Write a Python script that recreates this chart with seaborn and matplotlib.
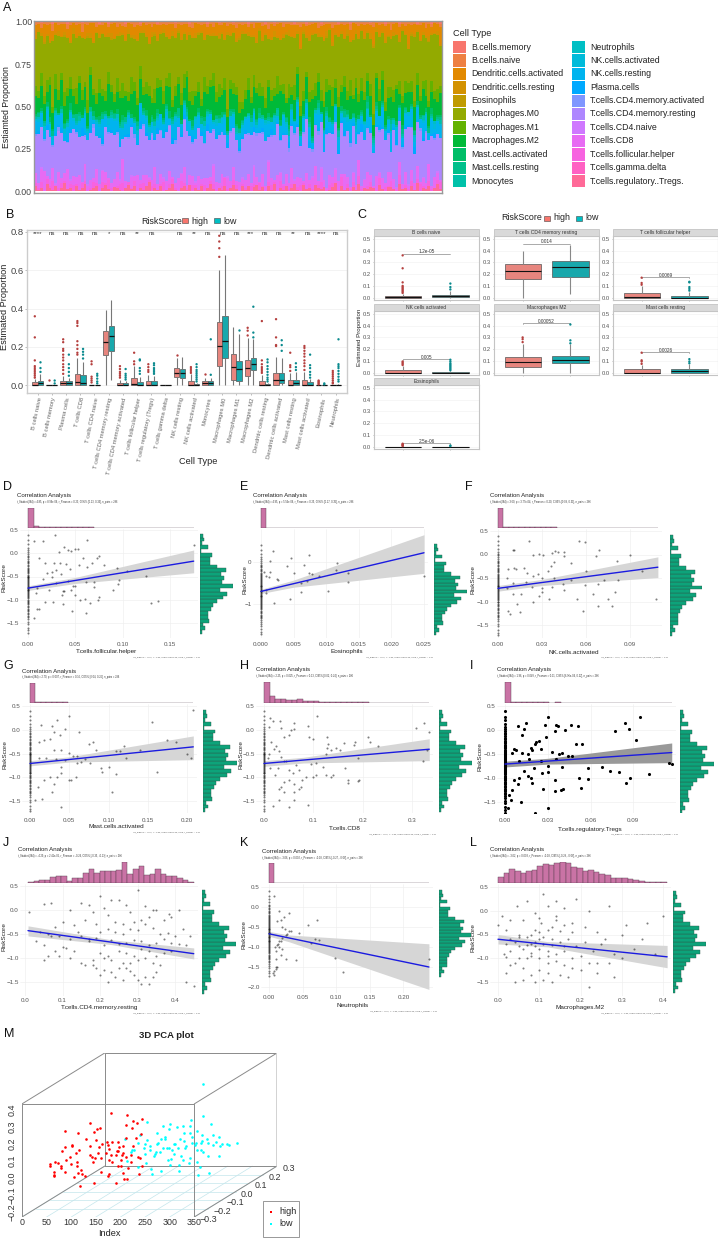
import numpy as np
import pandas as pd
import seaborn as sns
import matplotlib
matplotlib.use('Agg')
import matplotlib.pyplot as plt
from matplotlib.patches import Rectangle

sns.set_theme(style='white')
plt.rcParams['font.family'] = ['Liberation Sans', 'DejaVu Sans']

W, H = 718, 1240
HIGH, LOW = '#F8766D', '#00BFC4'
HIGH_DK, LOW_DK = '#B5403F', '#0A8A8E'

# ---- panel A: estimated proportion per sample (percent, 144 samples read across the plot)
cell_types = ['B.cells.memory', 'B.cells.naive', 'Dendritic.cells.activated', 'Dendritic.cells.resting',
              'Eosinophils', 'Macrophages.M0', 'Macrophages.M1', 'Macrophages.M2', 'Mast.cells.activated',
              'Mast.cells.resting', 'Monocytes', 'Neutrophils', 'NK.cells.activated', 'NK.cells.resting',
              'Plasma.cells', 'T.cells.CD4.memory.activated', 'T.cells.CD4.memory.resting', 'T.cells.CD4.naive',
              'T.cells.CD8', 'T.cells.follicular.helper', 'T.cells.gamma.delta', 'T.cells.regulatory..Tregs.']
cell_colors = ['#F8766D', '#EE8042', '#E28900', '#D39200', '#C09B00', '#93AA00', '#63B200', '#00BA38', '#00BE67',
               '#00C08B', '#00C1A9', '#00BFC4', '#00BBDA', '#00B4EF', '#00A9FF', '#7F96FF', '#AE87FF', '#CF78FF',
               '#E76BF3', '#F763E0', '#FF61C3', '#FF6A98']
a_b_memory = [0,0,1,0,0,0,1,0,0,0,0,1,0,0,0,0,1,0,0,0,0,0,1,0,0,1,0,0,0,0,0,1,0,0,0,0,1,0,0,0,0,0,1,0,0,0,0,0,1,0,0,0,0,1,0,0,0,0,0,1,0,0,0,1,0,0,0,0,1,0,0,0,
              0,1,0,0,0,0,0,1,0,0,1,0,0,0,0,0,0,1,0,0,0,1,0,0,0,0,1,0,0,0,0,0,1,0,0,0,1,0,0,0,0,0,0,1,0,0,0,0,1,0,0,0,0,1,0,0,0,0,0,1,0,0,0,0,1,0,0,1,0,0]
a_b_naive = [2,1,3,1,2,1,4,1,2,1,1,3,2,1,2,1,5,1,2,1,1,3,1,2,1,2,1,1,3,1,2,2,1,1,3,2,1,1,2,1,3,1,1,2,1,2,1,1,3,1,2,1,1,2,3,1,1,2,1,2,1,3,1,1,2,1,2,1,1,3,1,2,
             1,2,1,3,1,1,2,1,4,1,2,1,1,3,1,1,2,1,2,3,1,1,2,1,1,4,1,2,1,1,3,2,1,1,2,1,3,1,1,2,1,2,1,1,3,1,2,1,1,2,4,1,1,2,1,3,1,2,1,1,2,1,3,1,2,1,1,2,1,3,1,1]
a_dc_act = [6,4,3,8,5,10,4,6,3,7,5,4,9,3,6,5,3,8,4,6,11,3,5,4,7,3,6,9,4,5,3,7,4,6,5,8,3,4,6,10,3,5,7,4,3,6,8,4,5,3,7,5,9,3,4,6,5,3,8,4,6,3,7,5,4,9,3,6,4,5,7,3,
            5,3,7,4,9,3,6,5,4,8,3,6,10,4,5,3,7,6,4,12,3,5,8,4,6,3,5,9,4,3,7,5,6,4,8,3,5,10,4,6,3,7,4,5,9,3,6,4,5,8,3,4,7,6,3,5,11,4,6,3,8,5,4,7,3,6,4,9,5,3]
a_dc_rest = [2,1,2,3,1,1,2,1,3,1,2,1,1,4,1,2,1,1,2,3,1,1,2,1,1,2,3,1,1,2,1,1,3,1,2,1,1,2,1,1,3,1,2,1,2,1,1,3,1,1,2,1,1,2,1,3,1,1,2,1,1,2,1,3,1,1,2,1,1,2,1,2,
             1,2,1,1,3,1,2,1,1,2,4,1,1,2,1,3,1,1,2,1,1,2,3,1,1,2,1,1,3,1,2,1,1,2,1,3,1,1,2,1,1,2,1,4,1,2,1,1,3,1,1,2,1,2,1,1,3,1,2,1,1,2,1,3,1,1,2,1,1,2,1,3]
a_eos = [0,0,0,1,0,0,0,0,0,0,1,0,0,0,0,0,0,0,1,0,0,0,0,0,0,0,1,0,0,0,0,0,0,1,0,0,0,0,0,0,0,1,0,0,0,0,0,0,0,1,0,0,0,0,0,0,1,0,0,0,0,0,0,1,0,0,0,0,0,0,1,0,
         0,0,0,0,0,1,0,0,0,0,0,0,0,0,1,0,0,0,0,0,1,0,0,0,0,0,0,0,1,0,0,0,0,0,0,1,0,0,0,0,0,0,0,0,1,0,0,0,0,1,0,0,0,0,0,0,0,1,0,0,0,0,0,1,0,0,0,0,0,0,1,0]
a_m0 = [28,34,23,31,26,19,37,24,30,21,33,27,20,35,29,22,32,25,34,18,28,37,23,30,33,19,27,35,24,31,22,28,39,21,26,32,18,34,28,23,37,30,21,27,33,25,20,36,29,24,31,23,18,34,27,32,28,37,22,30,25,20,35,28,32,24,38,26,31,23,34,39,
        31,25,36,20,28,33,24,38,22,29,35,19,30,26,37,23,32,27,21,34,29,18,36,25,31,22,28,38,24,33,20,27,35,29,23,31,19,37,26,30,24,34,21,28,36,25,32,20,29,39,23,27,33,22,35,30,18,26,37,24,31,28,21,34,25,36,29,22,38,27,33,40]
a_m1 = [6,4,8,5,7,5,3,9,6,4,8,4,7,5,9,4,6,3,7,5,4,7,8,4,6,7,4,5,8,4,7,3,6,9,5,4,7,5,7,5,3,8,6,4,7,5,8,4,6,4,7,8,4,5,7,3,6,4,9,5,4,7,6,8,4,7,4,5,7,4,6,4,
        5,7,4,6,3,8,5,6,4,7,5,9,4,6,3,7,5,8,4,6,5,3,7,4,8,5,6,4,7,3,9,5,6,4,7,5,8,3,6,4,7,5,4,8,6,3,7,5,4,9,5,6,3,7,4,8,5,6,4,7,3,5,8,4,6,5,7,4,8,3,5,6]
a_m2 = [11,8,14,10,6,18,9,12,7,15,10,13,8,11,6,16,9,12,7,20,10,8,13,9,6,17,11,7,10,14,8,12,6,11,16,9,13,8,10,15,7,9,12,16,8,11,14,6,10,13,9,7,18,11,8,12,10,6,15,9,13,19,8,11,10,14,7,12,9,15,8,6,
        9,13,7,11,16,8,10,6,14,9,12,7,19,10,8,13,6,11,15,9,7,12,10,17,8,11,6,13,9,16,7,10,12,8,14,6,11,9,18,7,10,13,8,12,6,15,9,11,7,14,10,8,21,6,12,9,11,7,13,10,8,16,6,11,9,14,7,12,10,8,13,6]
a_mast_act = [1,1,2,0,2,3,1,1,0,2,1,1,4,1,0,1,2,1,1,0,3,1,2,1,2,0,1,1,3,1,2,0,1,2,1,1,0,2,3,1,1,1,2,0,1,1,4,1,1,0,2,1,1,1,3,0,2,1,2,1,1,0,1,2,3,1,0,1,2,1,1,1,
              1,0,2,1,1,3,0,1,2,1,1,0,3,1,1,2,0,1,1,2,1,0,4,1,1,2,0,1,2,1,1,0,1,3,1,2,0,1,1,2,1,0,3,1,1,2,0,1,1,2,1,0,3,1,2,1,0,1,1,2,1,0,2,1,3,0,1,1,2,1,0,1]
a_mast_rest = [1,2,0,1,1,0,3,1,1,0,2,1,0,2,4,1,0,1,1,2,0,1,1,3,0,1,2,2,0,1,1,3,1,0,1,2,0,1,1,0,3,1,2,0,1,2,0,1,1,4,0,1,2,0,1,1,1,3,0,1,1,0,2,1,0,1,1,3,0,1,2,1,
               0,1,2,0,1,3,1,0,1,2,0,1,1,0,2,1,3,0,1,1,0,2,1,1,0,3,1,0,1,2,0,1,1,0,4,1,0,2,1,0,1,1,3,0,1,2,0,1,1,0,2,1,0,1,3,1,0,1,2,0,1,1,0,3,1,0,1,2,1,0,1,1]
a_mono = [1,0,1,2,0,1,0,1,0,2,1,0,1,0,1,3,0,1,0,1,2,0,1,0,1,0,2,1,0,1,3,0,1,0,1,2,0,1,0,1,0,2,1,0,1,0,1,2,0,1,0,1,2,0,1,0,1,0,3,1,0,1,0,2,1,0,1,0,1,2,0,1,
          0,1,0,1,2,0,1,0,1,0,1,3,0,1,0,2,1,0,1,0,1,0,2,1,0,1,0,1,2,0,1,0,3,1,0,1,0,1,2,0,1,0,1,0,2,1,0,1,0,1,3,0,1,0,1,2,0,1,0,1,0,2,1,0,1,0,1,2,0,1,0,1]
a_neut = [0,1,0,0,1,0,0,1,0,0,0,2,0,0,1,0,0,0,1,0,0,1,0,0,0,1,0,0,2,0,0,1,0,0,0,1,0,0,1,0,0,0,1,0,0,2,0,0,1,0,0,0,1,0,0,1,0,0,0,1,0,0,2,0,0,1,0,0,0,1,0,0,
          1,0,0,1,0,0,0,2,0,0,1,0,0,0,1,0,0,1,0,0,0,1,0,0,2,0,0,1,0,0,0,1,0,0,1,0,0,0,2,0,0,1,0,0,1,0,0,0,1,0,0,2,0,0,1,0,0,0,1,0,0,1,0,0,0,2,0,0,1,0,0,1]
a_nk_act = [1,2,0,3,1,0,2,1,0,1,3,0,1,2,0,1,0,2,1,4,0,1,2,0,1,3,0,1,2,0,1,0,3,1,0,2,1,0,1,3,0,2,1,0,1,2,0,1,3,0,1,2,0,1,0,3,1,0,2,1,0,1,2,0,3,1,0,1,2,0,1,2,
            0,1,3,0,2,1,0,1,2,0,4,1,0,1,2,0,1,0,3,1,0,2,1,0,1,3,0,1,2,0,1,0,2,1,0,3,1,0,2,1,0,1,4,0,1,2,0,1,0,3,1,0,2,1,0,1,2,0,3,1,0,1,2,0,1,3,0,1,2,0,1,0]
a_nk_rest = [7,5,9,4,8,6,3,10,6,8,4,7,9,5,3,8,6,10,4,7,2,8,5,11,6,3,7,9,5,8,4,6,10,3,7,5,9,6,8,3,7,5,4,9,6,8,3,7,10,5,6,4,8,7,3,9,6,5,8,4,10,3,7,6,5,9,4,8,6,3,7,5,
             6,9,4,7,3,8,5,10,6,4,8,2,7,9,5,3,8,6,11,4,7,5,9,3,6,8,4,10,5,7,3,9,6,4,8,5,10,3,7,6,4,9,5,8,3,7,6,10,4,5,9,2,7,6,4,8,5,10,3,7,5,9,6,4,8,3,7,6,9,5]
a_plasma = [1,2,0,1,3,1,0,2,1,3,0,1,2,0,1,0,5,1,0,2,1,0,1,3,0,1,2,0,1,3,0,1,2,1,0,1,4,0,2,1,0,1,3,0,1,2,0,3,1,0,1,2,0,1,3,0,1,2,0,4,1,0,1,2,0,1,3,0,1,0,2,1,
            2,0,1,3,0,1,2,0,1,4,0,1,2,1,0,3,1,0,2,1,0,1,5,0,1,2,0,1,3,0,1,0,2,1,3,0,1,2,0,1,4,0,1,2,0,1,3,1,0,2,0,1,3,0,1,2,1,0,4,1,0,2,1,0,1,3,0,1,2,0,1,2]
a_cd4_act = [1,0,0,1,0,0,1,0,2,0,0,1,0,0,1,0,0,1,0,0,2,0,0,1,0,1,0,0,1,0,0,0,1,0,2,0,0,1,0,0,1,0,0,1,0,0,1,0,2,0,0,1,0,0,1,0,0,0,1,0,0,1,0,0,2,0,0,1,0,0,1,0,
             0,1,0,0,2,0,1,0,0,1,0,0,1,0,0,2,0,1,0,0,1,0,0,1,0,2,0,0,1,0,0,1,0,0,1,0,2,0,0,1,0,0,1,0,0,0,1,0,0,2,0,0,1,0,1,0,0,1,0,0,2,0,1,0,0,1,0,0,1,0,0,1]
a_cd4_rest = [22,28,25,18,27,24,12,29,23,26,19,14,27,30,25,21,28,16,24,29,31,20,26,13,27,24,30,28,22,18,9,25,29,26,23,17,28,31,24,20,27,15,29,25,22,30,26,19,24,28,21,27,32,23,16,26,29,24,20,28,25,18,27,30,23,26,14,28,24,21,16,22,
              26,23,29,17,25,31,21,27,12,24,30,26,20,28,23,15,27,25,32,19,24,29,22,11,26,28,24,18,30,25,21,27,16,29,23,26,20,31,24,13,28,25,22,27,18,30,24,26,21,29,10,25,27,23,19,28,31,24,17,26,29,22,25,14,27,24,20,23,18,21]
a_cd4_naive = [0,0,1,0,0,0,0,1,0,0,0,0,1,0,0,0,0,0,1,0,0,0,0,1,0,0,0,0,0,1,0,0,0,1,0,0,0,0,0,1,0,0,0,0,1,0,0,0,0,0,1,0,0,0,0,1,0,0,0,0,0,1,0,0,0,0,1,0,0,0,0,1,
               0,0,0,1,0,0,0,0,1,0,0,0,1,0,0,0,0,1,0,0,0,0,0,1,0,0,1,0,0,0,0,1,0,0,0,0,0,1,0,0,0,1,0,0,0,0,1,0,0,0,0,0,1,0,0,0,1,0,0,0,0,1,0,0,0,0,1,0,0,0,0,0]
a_cd8 = [6,3,8,12,2,4,7,1,9,3,5,11,2,6,4,8,1,10,3,5,2,9,4,6,7,1,3,5,8,2,11,4,0,6,3,9,2,5,7,1,4,10,3,6,2,5,8,1,3,7,4,9,2,6,5,1,8,3,4,6,2,10,5,3,7,1,6,4,8,2,5,3,
         4,7,2,9,5,1,6,3,11,4,2,8,5,1,7,3,10,2,6,4,1,9,3,5,12,2,7,4,1,6,3,8,5,2,10,4,1,6,3,9,2,5,7,4,1,8,3,6,2,11,4,5,1,7,3,9,2,6,4,8,1,5,3,10,2,7,4,1]
a_tfh = [2,1,4,0,3,1,5,0,2,3,1,0,2,4,1,0,3,2,0,1,4,2,0,3,1,5,2,0,1,3,4,0,2,1,3,0,2,4,0,1,3,2,0,1,5,0,2,3,1,0,4,2,1,0,3,2,0,1,4,0,2,3,1,0,2,5,1,0,3,2,0,1,
         1,0,3,2,0,4,1,0,2,3,1,0,5,2,0,1,3,0,2,4,1,0,3,1,0,2,4,0,1,3,2,0,1,5,0,2,1,3,0,4,1,0,2,3,0,1,4,0,2,1,3,0,1,5,0,2,1,3,0,2,4,1,0,3,1,0,2,4,0,1]
a_gd = [0] * 144
a_treg = [3,1,2,0,4,2,1,3,0,2,5,1,2,0,3,1,2,4,0,1,2,3,0,2,4,1,0,3,2,1,0,2,4,1,3,0,2,1,3,5,0,2,1,3,0,1,2,4,1,0,2,3,1,4,0,2,1,3,0,2,4,1,0,2,1,3,0,2,4,1,0,3,
          1,3,0,2,4,1,2,0,3,1,5,0,2,1,3,0,2,4,1,0,3,1,2,0,4,2,1,3,0,1,2,5,0,3,1,2,0,3,1,4,0,2,1,3,2,0,4,1,0,3,2,1,0,4,1,2,0,3,1,5,0,2,1,3,0,2,4,1,0,2]
a_series = [a_b_memory, a_b_naive, a_dc_act, a_dc_rest, a_eos, a_m0, a_m1, a_m2, a_mast_act, a_mast_rest, a_mono,
            a_neut, a_nk_act, a_nk_rest, a_plasma, a_cd4_act, a_cd4_rest, a_cd4_naive, a_cd8, a_tfh, a_gd, a_treg]
n_samples = min(len(vals) for vals in a_series)

# ---- panel B/C: box summaries (low whisker, q1, median, q3, high whisker) and outliers
b_cells = ['B cells naive', 'B cells memory', 'Plasma cells', 'T cells CD8', 'T cells CD4 naive',
           'T cells CD4 memory resting', 'T cells CD4 memory activated', 'T cells follicular helper',
           'T cells regulatory (Tregs)', 'T cells gamma delta', 'NK cells resting', 'NK cells activated',
           'Monocytes', 'Macrophages M0', 'Macrophages M1', 'Macrophages M2', 'Dendritic cells resting',
           'Dendritic cells activated', 'Mast cells resting', 'Mast cells activated', 'Eosinophils', 'Neutrophils']
b_sig = ['****', 'ns', 'ns', 'ns', 'ns', '*', 'ns', '**', 'ns', '', 'ns', '**', 'ns', 'ns', 'ns', '***', 'ns', 'ns',
         '**', 'ns', '****', 'ns']
box_high = [[0,0,.003,.015,.035], [0,0,0,.001,.002], [0,.003,.012,.025,.05], [0,0,.015,.057,.14], [0,0,0,.001,.002],
            [0,.16,.225,.283,.395], [0,0,0,.013,.03], [0,0,.008,.04,.1], [0,0,0,.022,.055], [0,0,0,.001,.001],
            [0,.045,.062,.09,.14], [0,0,0,.024,.06], [0,0,.01,.02,.04], [0,.103,.205,.33,.60], [0,.03,.094,.165,.305],
            [0,.05,.092,.132,.245], [0,0,0,.022,.055], [0,.003,.03,.062,.15], [0,0,0,.027,.065], [0,0,0,.03,.07],
            [0,0,0,.001,.002], [0,0,0,.001,.002]]
box_low = [[0,.002,.01,.025,.06], [0,0,0,.001,.002], [0,.002,.01,.02,.04], [0,0,.01,.052,.12], [0,0,0,.001,.002],
           [.03,.18,.257,.31,.445], [0,0,0,.01,.02], [0,0,0,.018,.045], [0,0,0,.022,.05], [0,0,0,.001,.001],
           [0,.04,.063,.087,.15], [0,0,0,.006,.014], [0,0,.01,.02,.04], [0,.14,.232,.36,.68], [0,.02,.083,.125,.27],
           [0,.08,.11,.145,.24], [0,0,0,.006,.014], [0,.01,.03,.065,.145], [0,0,.013,.03,.07], [0,0,0,.015,.035],
           [0,0,0,.001,.002], [0,0,0,.003,.006]]
out_high = [[.36,.25,.13,.1,.09,.08,.07,.06,.05,.04], [.03], [.24,.225,.19,.18,.16,.145,.13,.11,.095,.08,.06],
            [.335,.325,.31,.23,.21,.19,.17,.16], [.125,.11,.045,.035,.025,.015], [], [.10,.085,.07,.06,.05,.04],
            [.17,.125,.11], [.11,.095,.08,.07], [], [.16], [.095,.085,.075,.065], [.06], [.78,.75,.715,.67], [],
            [.30,.285,.26], [.335,.13,.11,.095,.085,.075,.065], [.345,.25,.21,.205], [.17,.105,.095,.075],
            [.205,.195,.18,.165,.15,.13,.115,.10,.08], [.025,.02,.015,.01,.005], [.075,.065,.055,.045,.035,.025,.015,.01]]
out_low = [[.12,.09,.07], [.025,.01], [.16,.11,.09,.07,.05], [.19,.175,.16,.14], [.06,.05,.035,.02,.01], [],
           [.085,.06,.05,.04,.03], [.135,.13,.09,.075,.06], [.115,.105,.09,.08,.07,.06], [], [],
           [.11,.095,.08,.07,.06,.05,.04,.03,.02], [.24,.055], [], [.29], [.41,.275,.25],
           [.135,.12,.10,.085,.07,.055,.04,.03,.02], [.235,.21,.18], [.115,.095,.08], [.16,.105,.09,.07,.055,.04],
           [.01,.005], [.24,.11,.10,.09,.075,.06,.045,.03,.02]]
c_cells = ['B cells naive', 'T cells CD4 memory resting', 'T cells follicular helper', 'NK cells activated',
           'Macrophages M2', 'Mast cells resting', 'Eosinophils']
c_pvalues = ['1.2e-05', '0.014', '0.0069', '0.005', '0.00052', '0.0026', '2.5e-06']
c_bracket = [.375, .46, .175, .115, .42, .175, .027]

# ---- panels D-L: RiskScore histogram shared by all panels, points with x away from zero, fit and band
rs_counts = [2,5,3,9,8,8,11,13,17,24,28,21,34,23,25,22,27,17,10,10,12,1,8,2,4,3]
rs_at_zero = [.40,.28,.20,.12,.06,.02,-.02,-.06,-.09,-.13,-.16,-.19,-.22,-.25,-.28,-.31,-.33,-.36,-.38,-.41,-.43,-.46,-.48,
              -.5,-.52,-.54,-.56,-.58,-.6,-.62,-.64,-.66,-.68,-.7,-.72,-.74,-.76,-.78,-.8,-.82,-.84,-.86,-.88,-.9,-.92,-.95,
              -.97,-1.0,-1.02,-1.05,-1.08,-1.1,-1.13,-1.16,-1.19,-1.22,-1.25,-1.28,-1.31,-1.34,-1.37,-1.42,-1.47,-1.52,-1.6,-1.66,-1.72]

d_x = [.006,.016,.028,.062,.038,.042,.05,.053,.045,.033,.012,.018,.027,.034,.04,.058,.075,.073,.068,.054,.03,.025,.02,.035,.044,.062,.08,.094,.105,.125,.175,.096,.095,.09,.07,.075,.06,.05,.045,.038,.036,.055,.065,.074,.026,.018,.022,.01,.008,.03,.042,.048,.016,.025,.037,.05,.061,.07,.037,.046,.061,.13,.137,.012,.009,.006]
d_y = [.27,.26,.40,.28,.13,.08,.10,.10,.05,.02,-.1,-.2,-.22,-.2,-.24,-.1,-.05,-.1,-.2,-.25,-.36,-.5,-.42,-.45,-.33,-.3,-.25,-.32,-.38,-.48,.18,-.58,-.66,-.78,-.62,-.95,-.98,-.7,-.8,-.82,-.9,-1.0,-1.08,-1.0,-1.05,-1.05,-.78,-.75,-.85,-.65,-.6,-.7,-.55,-.4,-.82,-.9,-.62,-.72,-1.1,-1.25,-1.28,-1.08,-1.02,-1.2,-1.2,-1.4]
e_x = [.0018,.0014,.0046,.0074,.004,.0066,.0051,.0074,.0078,.0089,.0116,.0115,.0133,.0133,.0102,.0062,.0045,.002,.025,.0005,.0014,.0008,.0013,.0024,.0026,.007,.0061,.0007,.0008]
e_y = [.27,.02,.09,.17,-.10,-.06,-.27,-.25,-.29,-.34,-.02,-.2,-.26,-.48,-.69,-.71,-.89,-.97,-.34,-.23,-.23,-.33,-.35,-.4,-.43,-.46,-.51,-.66,-.74]
f_x = [.021,.011,.01,.028,.024,.031,.041,.039,.037,.045,.045,.059,.055,.069,.067,.081,.09,.038,.036,.05,.007,.011,.012,.018,.02,.034,.03,.027,.024,.038,.06,.072,.082,.098,.068,.059,.05,.044,.037,.03,.023,.019,.01,.006,.006,.03,.045,.054,.058,.065,.068,.08,.078,.075,.028,.016,.015,.0065,.008,.035,.024,.013,.01,.108]
f_y = [.29,.1,.1,.02,-.02,-.02,.05,.07,.03,.05,-.03,.26,.28,.1,-.04,-.13,-.02,-.15,-.25,-.18,-.3,-.28,-.3,-.28,-.4,-.35,-.5,-.42,-.45,-.5,-.35,-.55,-.54,-.35,-.62,-.65,-.55,-.62,-.7,-.72,-.7,-.58,-.6,-.5,-.72,-.8,-.75,-.95,-1.2,-.85,-1.1,-.8,-1.1,-.95,-.88,-.85,-1.22,-1.2,-1.27,-.95,-1.0,-1.05,-.85,-.95]
g_x = [.05,.034,.028,.014,.03,.045,.062,.155,.162,.175,.186,.208,.2,.205,.11,.12,.14,.122,.115,.08,.075,.084,.076,.06,.05,.04,.03,.025,.018,.011,.012,.02,.033,.04,.045,.055,.06,.065,.07,.09,.092,.1,.11,.105,.04,.035,.025,.018,.05,.052,.058,.04,.028,.03,.015,.006,.01,.038]
g_y = [.28,.2,.08,.1,-.05,.02,-.05,.17,-.88,-.22,-.26,.42,-.52,-.6,-.44,-.35,-.42,-.6,-.45,-.26,-.3,-.42,-.7,-.55,-.48,-.42,-.42,-.2,-.22,-.25,-.6,-.6,-.62,-.78,-.63,-.55,-.7,-.68,-.62,-.8,-.88,-.78,-.94,-1.32,-.9,-1.0,-1.0,-1.05,-1.05,-1.05,-1.0,-1.63,-1.3,-1.15,-1.45,-1.47,-1.2,-.1]
h_x = [.107,.013,.033,.018,.01,.06,.09,.055,.06,.035,.04,.05,.1,.092,.13,.128,.127,.155,.162,.185,.183,.21,.215,.232,.308,.325,.335,.33,.322,.19,.145,.135,.125,.165,.12,.105,.095,.105,.17,.17,.192,.19,.14,.125,.135,.1,.085,.078,.075,.07,.065,.045,.04,.035,.03,.025,.015,.02,.01,.008,.012,.022,.028,.05,.058,.05,.07,.03,.035,.04,.09,.06,.03,.05,.018,.06,.06,.04]
h_y = [.3,.25,.18,.18,.05,.14,.08,.0,.02,.03,-.15,-.1,-.2,-.15,-.3,-.38,-.15,-.42,-.28,-.25,-.33,-.15,-.25,-.35,.03,.14,-.05,-.42,-.65,-.6,-.38,-.42,-.5,-.8,-.78,-.7,-.72,-.95,-1.05,-1.12,-1.05,-1.08,-.95,-.95,-1.0,-1.0,-1.0,-1.05,-1.2,-.85,-.75,-.65,-.65,-.58,-.45,-.35,-.25,-.4,-.5,-.6,-.8,-.95,-.8,-.85,-.9,-1.05,-1.25,-1.25,-1.2,-1.3,-1.58,-1.48,-1.48,-1.62,-1.6,-1.15,-1.3,-1.1]
i_x = [.03,.015,.028,.013,.012,.036,.042,.046,.051,.037,.009,.035,.029,.024,.022,.021,.018,.019,.025,.033,.038,.04,.044,.05,.084,.087,.077,.092,.095,.054,.047,.036,.025,.017,.016,.012,.008,.006,.005,.01,.02,.03,.04,.03,.026,.016,.013,.01,.117,.115,.101,.088,.085,.08,.074,.068,.058,.058,.052,.053,.035,.039,.027,.035,.041,.018,.019,.009,.006,.005,.003,.011,.021,.03,.002,.004]
i_y = [.28,.15,.1,.02,-.1,.1,.0,.1,.08,.08,.09,-.03,-.15,-.22,-.25,-.3,-.37,-.42,-.4,-.45,-.5,-.48,-.55,-.3,.15,.03,-.02,-.2,.28,-.3,-.55,-.6,-.65,-.6,-.5,-.48,-.42,-.4,-.47,-.65,-.8,-.75,-.78,-.88,-.9,-.95,-.85,-1.0,-.7,-.68,-.92,-1.0,-1.1,-.87,-.85,-.78,-.8,-1.02,-1.0,-1.2,-1.05,-1.25,-1.22,-1.27,-1.22,-1.0,-1.1,-1.12,-1.05,-1.25,-1.35,-1.5,-1.73,-1.62,-1.62,-1.45]
j_x = [.01,.05,.07,.12,.15,.18,.17,.2,.21,.23,.25,.27,.28,.3,.32,.34,.37,.41,.385,.39,.35,.33,.31,.29,.26,.24,.22,.19,.16,.13,.1,.08,.06,.04,.03,.05,.07,.09,.12,.14,.17,.2,.22,.24,.26,.28,.3,.32,.34,.36,.38,.4,.42,.44,.43,.41,.39,.37,.35,.33,.31,.29,.27,.25,.23,.21,.19,.17,.15,.13,.11,.1,.08,.06,.05,.09,.12,.15,.18,.2,.22,.25,.27,.29,.31,.33,.35,.37,.39,.21,.23,.26,.28,.3,.32,.34,.36,.27,.25,.23,.21,.19,.35,.3,.28,.24,.22,.33,.43,.45,.31,.29,.26,.32,.34,.18,.16,.2]
j_y = [-.05,.12,.15,.0,.15,-.05,.1,.3,.05,.2,.2,.1,-.05,.42,.08,.0,-.2,.0,-.08,-.15,.0,-.15,-.2,-.25,-.3,-.25,-.1,-.3,-.2,-.32,-.25,-.35,-.5,-.45,-.65,-.72,-.55,-.55,-.6,-.45,-.65,-.45,-.4,-.45,-.5,-.4,-.42,-.3,-.38,-.5,-.48,-.55,-.4,-.55,-.72,-.7,-.68,-.6,-.68,-.72,-.65,-.62,-.68,-.7,-.62,-.72,-.58,-.6,-.55,-.85,-.8,-.78,-.85,-.95,-1.05,-.95,-1.0,-1.1,-1.05,-.9,-.95,-.85,-.9,-.95,-.82,-.85,-.95,-.9,-.85,-1.0,-1.05,-1.1,-1.1,-1.05,-1.0,-1.1,-1.15,-1.2,-1.2,-1.3,-1.25,-1.2,-1.3,-1.45,-1.28,-1.4,-1.5,-1.55,-1.5,-1.58,-1.55,-1.35,-1.45,-1.4,-1.4,-1.15,-1.15,-1.35]
k_x = [.008,.03,.015,.022,.018,.02,.012,.024,.072,.058,.03,.025,.02,.015,.012,.009,.01,.045,.032,.027,.018,.014,.062,.068,.074,.01,.015,.02,.018,.026,.04,.098,.11,.238,.01,.012,.008,.006,.007,.01]
k_y = [.28,-.15,-.1,-.25,-.32,-.5,-.35,-.55,-.32,-.46,-.6,-.7,-.78,-.85,-.95,-1.0,-1.1,-.65,-.6,-.68,-.85,-.92,-.9,-.8,-.82,-1.3,-1.0,-1.05,-1.2,-1.3,-1.32,-1.28,-1.62,-1.3,-1.5,-1.5,-1.6,-1.65,-1.7,-1.55]
l_x = [.0,.01,.02,.03,.045,.06,.07,.09,.11,.12,.14,.16,.19,.22,.27,.31,.36,.4,.35,.3,.26,.24,.21,.18,.16,.14,.13,.12,.105,.09,.08,.07,.05,.04,.03,.02,.015,.03,.05,.06,.08,.1,.11,.13,.15,.17,.19,.21,.23,.25,.28,.33,.38,.3,.27,.24,.2,.18,.16,.14,.12,.1,.09,.07,.05,.04,.03,.02,.06,.08,.1,.12,.14,.16,.18,.2,.22,.24,.28,.12,.1,.08,.06,.04,.09,.11,.13,.15,.17,.11,.09,.07,.13,.15,.1,.05,.02,.08,.12,.16,.14,.1,.18,.22]
l_y = [-.3,-.1,-.4,-.2,.1,-.2,.2,-.05,.35,.1,.2,.05,.25,.0,.1,-.3,-.25,-.1,-.6,-.5,-.6,-.45,-.35,-.45,-.3,-.1,-.35,-.4,-.25,-.4,-.5,-.55,-.5,-.65,-.6,-.7,-.9,-.85,-.75,-.8,-.7,-.6,-.55,-.6,-.65,-.6,-.75,-.65,-.85,-.7,-.9,-.8,-.9,-1.0,-1.1,-1.1,-.95,-1.0,-.85,-.9,-.85,-.8,-.75,-1.0,-1.0,-1.1,-1.15,-1.3,-1.2,-.95,-1.0,-1.1,-1.05,-1.15,-1.2,-1.25,-1.1,-1.3,-1.4,-1.3,-1.25,-1.35,-1.45,-1.5,-1.5,-1.45,-1.5,-1.35,-1.4,-.7,-.65,-.72,-.72,-.42,-.45,-.55,-.98,-.88,-.95,-.75,-.2,-.15,-.25,-1.6]

fit_x = {'D': [0, .05, .175], 'E': [0, .005, .025], 'F': [0, .03, .109], 'G': [0, .05, .208], 'H': [0, .08, .335],
         'I': [0, .03, .117], 'J': [.008, .23, .45], 'K': [0, .03, .238], 'L': [0, .12, .41]}
fit_y = {'D': [-.75, -.585, -.17], 'E': [-.70, -.516, .22], 'F': [-.72, -.596, -.27], 'G': [-.71, -.626, -.36],
         'H': [-.71, -.638, -.41], 'I': [-.71, -.648, -.47], 'J': [-.43, -.67, -.91], 'K': [-.67, -.775, -1.5],
         'L': [-.60, -.71, -.97]}
fit_lo = {'D': [-.80, -.65, -.42], 'E': [-.75, -.60, -.27], 'F': [-.78, -.66, -.49], 'G': [-.76, -.68, -.63],
          'H': [-.77, -.70, -.65], 'I': [-.77, -.71, -.68], 'J': [-.54, -.72, -1.02], 'K': [-.73, -.87, -2.06],
          'L': [-.70, -.76, -1.2]}
fit_hi = {'D': [-.70, -.52, .07], 'E': [-.65, -.43, .65], 'F': [-.66, -.53, -.05], 'G': [-.65, -.57, -.13],
          'H': [-.65, -.58, -.19], 'I': [-.65, -.59, -.27], 'J': [-.33, -.62, -.79], 'K': [-.61, -.70, -.92],
          'L': [-.50, -.65, -.73]}

# top histogram heights, 30 bins
top_d = [130,10,6,8,7,8,7,9,7,6,6,4,3,2,2,1,2,0,1,1,0,0,0,0,1,1,0,0,0,1]
top_e = [240,3,2,3,2,1,2,1,1,1,2,1,0,1,1,0,1,1,0,0,0,0,0,0,0,0,0,0,0,1]
top_f = [140,7,6,5,7,8,4,4,7,4,6,3,2,2,1,2,2,1,1,1,1,0,1,1,0,1,0,0,0,1]
top_g = [170,7,7,5,9,5,5,4,4,3,2,3,2,1,1,1,1,1,1,1,1,1,0,0,1,0,1,0,1,1]
top_h = [100,32,17,17,15,16,17,11,10,9,7,7,6,6,4,3,6,5,3,2,2,1,2,1,1,1,1,1,2,2]
top_i = [130,5,5,4,4,7,6,4,3,4,3,3,2,2,1,2,2,1,1,2,3,1,0,2,1,0,1,0,0,1]
top_j = [2,3,5,5,9,10,10,3,7,7,15,22,15,18,19,19,20,32,14,21,26,12,14,22,13,10,10,7,5,2]
top_k = [200,4,3,1,1,1,1,0,1,0,0,0,0,1,1,0,0,0,0,0,0,0,0,0,0,0,0,0,0,1]
top_l = [10,17,24,20,18,20,22,30,33,31,35,36,34,28,26,20,22,19,16,13,9,9,8,7,5,4,2,2,2,2]

stat_d = 't_Student(284) = 4.85, p = 8.99e-06, r_Pearson = 0.23, CI95% [0.13, 0.33], n_pairs = 286'
stat_e = 't_Student(284) = 4.95, p = 5.56e-06, r_Pearson = 0.25, CI95% [0.17, 0.35], n_pairs = 286'
stat_f = 't_Student(284) = 3.60, p = 3.77e-04, r_Pearson = 0.20, CI95% [0.09, 0.31], n_pairs = 286'
stat_g = 't_Student(284) = 2.70, p = 0.007, r_Pearson = 0.16, CI95% [0.04, 0.26], n_pairs = 286'
stat_h = 't_Student(284) = 2.25, p = 0.025, r_Pearson = 0.13, CI95% [0.02, 0.24], n_pairs = 286'
stat_i = 't_Student(284) = 1.96, p = 0.049, r_Pearson = 0.11, CI95% [6.96e-04, 0.22], n_pairs = 286'
stat_j = 't_Student(284) = -4.29, p = 2.41e-05, r_Pearson = -0.24, CI95% [-0.35, -0.13], n_pairs = 286'
stat_k = 't_Student(284) = -3.06, p = 0.002, r_Pearson = -0.18, CI95% [-0.27, -0.06], n_pairs = 286'
stat_l = 't_Student(284) = -3.02, p = 0.003, r_Pearson = -0.18, CI95% [-0.28, -0.06], n_pairs = 286'
bf_note = 'log_e(BF01) = -5.05, r = 0.22, CI95% HDI [0.13, 0.33], r_Cauchy = 1.41'

# ---- panel M: index, second and third component
pca_high_idx = [0,6,3,8,14,18,26,28,32,39,45,39,44,52,50,61,63,60,62,66,74,77,83,87,91,90,100,98,107,112,115,109,118,122,126,131,136,141,138,145,150,149,155,160,158,164,170,171,178,183,188,190,185,176,168,162,152,143,134,127,120,113,105,96,88,80,72,64,56,48,42,36,24,20,12,110,120,130,140,150,160,170,95,103,125,135,146,155,166,175]
pca_high_z = [-.01,-.01,-.08,-.05,-.06,-.005,.155,-.01,.08,.085,.085,.02,-.01,.145,-.08,.01,-.04,-.07,-.125,.075,.125,.08,.04,.22,.16,.17,.08,.03,.095,.1,.05,.19,.09,.1,.0,.27,.06,.03,.11,.07,.05,.19,.03,.14,.25,.08,.22,.05,.21,.22,-.02,.03,.15,-.07,.18,-.08,-.09,.08,-.11,.02,-.06,-.08,-.05,-.1,.0,.02,-.07,-.05,-.02,.04,.03,-.04,-.03,.05,.0,.03,.07,.03,-.02,.02,-.03,.12,.12,.06,.04,.07,-.02,-.05,.0,.02]
pca_high_depth = [-.1,-.12,-.08,-.1,-.12,-.1,-.08,-.12,-.1,-.08,-.1,-.12,-.1,-.08,-.1,-.12,-.1,-.08,-.1,-.12,-.1,-.08,-.1,-.12,-.1,-.08,-.1,-.12,-.1,-.08,-.1,-.12,-.1,-.08,-.1,-.12,-.1,-.08,-.1,-.12,-.1,-.08,-.1,-.12,-.1,-.08,-.1,-.12,-.1,-.08,-.1,-.12,-.1,-.08,-.1,-.12,-.1,-.08,-.1,-.12,-.1,-.08,-.1,-.12,-.1,-.08,-.1,-.12,-.1,-.08,-.1,-.12,-.1,-.08,-.1,-.12,-.1,-.08,-.1,-.12,-.1,-.08,-.1,-.12,-.1,-.08,-.1,-.12,-.1,-.08]
pca_low_idx = [125,132,135,140,146,150,152,158,161,165,170,172,175,180,183,188,190,195,198,205,208,212,216,220,224,228,232,236,240,244,247,252,255,258,262,266,270,274,278,282,286,290,294,298,300,304,310,316,322,330,338,352,278,263,271,254,236,216,196,176,190,201,213,225,238,250,262,275,288,300,312,185,168,178,204,217,229,241,256,268,284,296,310,175,192,208,224,244,265]
pca_low_z = [.08,.0,-.03,.02,.05,.03,-.07,.02,.11,.0,.01,.06,.04,-.01,-.07,.01,.0,.06,.08,.02,.04,-.03,.01,.14,.0,.02,.06,.08,.06,.0,.03,.1,.05,-.02,.04,.1,.06,.01,.03,.07,.07,.02,.06,.04,.0,.1,.08,.07,.05,.04,.06,.06,.19,.155,.12,.17,.15,.16,.14,.18,.11,.08,.09,.05,.14,.12,.06,.05,.11,.16,.03,-.1,-.05,-.02,-.08,-.06,-.07,-.08,-.05,-.12,-.06,-.1,-.02,.08,.06,.02,-.02,-.03,-.05]
pca_low_depth = [0,.02,-.02,0,.02,-.02,0,.02,-.02,0,.02,-.02,0,.02,-.02,0,.02,-.02,0,.02,-.02,0,.02,-.02,0,.02,-.02,0,.02,-.02,0,.02,-.02,0,.02,-.02,0,.02,-.02,0,.02,-.02,0,.02,-.02,0,.02,-.02,0,.02,-.02,0,.02,-.02,0,.02,-.02,0,.02,-.02,0,.02,-.02,0,.02,-.02,0,.02,-.02,0,.02,-.02,0,.02,-.02,0,.02,-.02,0,.02,-.02,0,.02,-.02,0,.02,-.02,0,.02]
pca_far_idx = [284]
pca_far_z = [.37]
pca_far_depth = [0]
index_ticks = [0, 50, 100, 150, 200, 250, 300, 350]
depth_ticks = [-.3, -.2, -.1, 0, .1, .2, .3]
z_ticks = [-.2, -.1, 0, .1, .2, .3, .4]

fig = plt.figure(figsize=(W / 100, H / 100), dpi=100, facecolor='white')


def px_axes(x0, y0, x1, y1):
    return fig.add_axes([x0 / W, 1 - y1 / H, (x1 - x0) / W, (y1 - y0) / H])


def px_text(x, y, s, **kw):
    kw.setdefault('ha', 'left')
    kw.setdefault('va', 'center')
    return fig.text(x / W, 1 - y / H, s, **kw)


def px_rect(x, y, w, h, **kw):
    fig.add_artist(Rectangle((x / W, 1 - (y + h) / H), w / W, h / H, transform=fig.transFigure, **kw))


def risk_legend(x_title, x_high, x_low, y, size):
    px_text(x_title, y, 'RiskScore', fontsize=size, color='#222222')
    for x, col, lab in [(x_high, HIGH, 'high'), (x_low, LOW, 'low')]:
        px_rect(x - 3, y - 2.5, 6, 5, facecolor=col, edgecolor='#444444', linewidth=.4)
        px_rect(x - 3, y - .3, 6, .6, facecolor='#222222', edgecolor='none')
        px_text(x + 6, y, lab, fontsize=size, color='#222222')


for label, x, y in [('A', 3, 8), ('B', 6, 215), ('C', 357, 215), ('D', 3, 487), ('E', 240, 487), ('F', 465, 487),
                    ('G', 3, 666), ('H', 240, 666), ('I', 470, 666), ('J', 3, 843), ('K', 240, 843), ('L', 470, 843),
                    ('M', 4, 1034)]:
    px_text(x, y, label, fontsize=9, color='#111111')

# ---- A
df_a = pd.DataFrame([{'sample': i, 'cell': name, 'value': v}
                     for name, vals in zip(cell_types, a_series) for i, v in enumerate(vals[:n_samples])])
ax = px_axes(34, 21, 442, 193)
sns.histplot(data=df_a, x='sample', hue='cell', weights='value', multiple='fill', discrete=True, shrink=1,
             hue_order=cell_types, palette=cell_colors, linewidth=0, alpha=1, legend=False, ax=ax)
ax.set_xlim(-.5, n_samples - .5)
ax.set_ylim(-.01, 1.005)
ax.set_xticks([])
ax.set_yticks([0, .25, .5, .75, 1])
ax.set_yticklabels(['0.00', '0.25', '0.50', '0.75', '1.00'], fontsize=6.3, color='#444444')
ax.tick_params(axis='y', length=0, pad=1.5, left=False)
ax.set_xlabel('')
ax.set_ylabel('')
for s in ax.spines.values():
    s.set_color('#999999')
    s.set_linewidth(1)
px_text(7, 107, 'Estiamted Proportion', fontsize=6.3, rotation=90, ha='center', color='#222222')
px_text(453, 33, 'Cell Type', fontsize=6.6, color='#222222')
for i, (name, col) in enumerate(zip(cell_types, cell_colors)):
    col_x = 453 if i < 11 else 572
    row_y = 47 + 13.4 * (i % 11)
    px_rect(col_x, row_y - 6, 13, 12.4, facecolor=col, edgecolor='none')
    px_text(col_x + 18, row_y, name, fontsize=6.3, color='#222222')

# ---- B
rows = []
for cell, hi, lo in zip(b_cells, box_high, box_low):
    rows += [{'cell': cell, 'risk': 'high', 'value': v} for v in hi]
    rows += [{'cell': cell, 'risk': 'low', 'value': v} for v in lo]
df_box = pd.DataFrame(rows)
rows = []
for cell, hi, lo in zip(b_cells, out_high, out_low):
    rows += [{'cell': cell, 'risk': 'high', 'value': v} for v in hi]
    rows += [{'cell': cell, 'risk': 'low', 'value': v} for v in lo]
df_out = pd.DataFrame(rows)
pal = {'high': HIGH, 'low': LOW}
pal_dk = {'high': HIGH_DK, 'low': LOW_DK}

ax = px_axes(27, 230, 347, 393)
ax.grid(True, color='#EFEFEF', linewidth=.5)
ax.set_axisbelow(True)
sns.boxplot(data=df_box, x='cell', y='value', hue='risk', order=b_cells, hue_order=['high', 'low'], palette=pal,
            whis=(0, 100), showfliers=False, width=.8, gap=.04, legend=False, ax=ax,
            boxprops=dict(edgecolor='#555555', linewidth=.5), whiskerprops=dict(color='#777777', linewidth=.8),
            medianprops=dict(color='#111111', linewidth=.9), showcaps=False)
sns.stripplot(data=df_out, x='cell', y='value', hue='risk', order=b_cells, hue_order=['high', 'low'], palette=pal_dk,
              dodge=True, jitter=False, size=1.7, linewidth=0, legend=False, ax=ax)
ax.set_xlim(-.75, 21.8)
ax.set_ylim(-.04, .81)
ax.set_yticks([0, .2, .4, .6, .8])
ax.set_yticklabels(['0.0', '0.2', '0.4', '0.6', '0.8'], fontsize=6.8, color='#444444')
ax.tick_params(axis='y', length=1.5, pad=1, left=True, color='#888888', width=.4)
ax.tick_params(axis='x', length=1.5, pad=1.5, bottom=True, color='#888888', width=.4)
ax.set_xticks(range(len(b_cells)))
ax.set_xticklabels(b_cells, rotation=78, ha='right', rotation_mode='anchor', fontsize=4.2, color='#666666')
ax.set_xlabel('')
ax.set_ylabel('')
for i, s in enumerate(b_sig):
    ax.text(i + .02, .792, s, ha='center', va='center', fontsize=4.4, color='#333333')
for s in ax.spines.values():
    s.set_color('#CCCCCC')
    s.set_linewidth(1)
px_text(5, 307, 'Estimated Proportion', fontsize=6.6, rotation=90, ha='center', color='#222222')
px_text(198, 462, 'Cell Type', fontsize=6.6, ha='center', color='#222222')
risk_legend(141, 185, 217, 221, 6.4)

# ---- C
risk_legend(501, 547, 579, 218, 6.4)
facet_cols = [(374, 479), (494, 599), (613, 718)]
facet_rows = [(229, 236, 300), (304, 311, 375), (378, 385, 449)]
for i, (cell, pv, br) in enumerate(zip(c_cells, c_pvalues, c_bracket)):
    x0, x1 = facet_cols[i % 3]
    y_s, y0, y1 = facet_rows[i // 3]
    ax = px_axes(x0, y0, x1, y1)
    ax.grid(True, color='#EFEFEF', linewidth=.4)
    ax.set_axisbelow(True)
    sns.boxplot(data=df_box[df_box['cell'] == cell], x='risk', y='value', hue='risk', order=['high', 'low'],
                hue_order=['high', 'low'], palette=pal, whis=(0, 100), showfliers=False, width=.76, dodge=False,
                legend=False, ax=ax, boxprops=dict(edgecolor='#555555', linewidth=.5),
                whiskerprops=dict(color='#888888', linewidth=.8), medianprops=dict(color='#111111', linewidth=.8),
                showcaps=False)
    sub = df_out[df_out['cell'] == cell]
    if len(sub):
        sns.stripplot(data=sub, x='risk', y='value', hue='risk', order=['high', 'low'], hue_order=['high', 'low'],
                      palette=pal_dk, jitter=False, size=1.7, linewidth=0, legend=False, ax=ax)
    ax.set_xlim(-.6, 1.6)
    ax.set_ylim(-.02, .525)
    ax.plot([0, 0, 1, 1], [br - .006, br, br, br - .006], color='#888888', linewidth=.5)
    ax.text(.5, br + .014, pv, ha='center', va='center', fontsize=3.4, color='#333333')
    ax.set_yticks([0, .1, .2, .3, .4, .5])
    ax.set_yticklabels(['0.0', '0.1', '0.2', '0.3', '0.4', '0.5'], fontsize=4.2, color='#555555')
    ax.set_xticks([0, 1])
    ax.set_xticklabels(['', ''])
    ax.tick_params(axis='both', length=1, pad=1, left=True, bottom=True, color='#888888', width=.4)
    ax.set_xlabel('')
    ax.set_ylabel('')
    for s in ax.spines.values():
        s.set_color('#C4C4C4')
        s.set_linewidth(.8)
    px_rect(x0, y_s, x1 - x0, y0 - y_s, facecolor='#D9D9D9', edgecolor='#C4C4C4', linewidth=.6)
    px_text((x0 + x1) / 2, (y_s + y0) / 2, cell, fontsize=3.6, ha='center', color='#333333')
px_text(360, 337, 'Estimated Proportion', fontsize=4.4, rotation=90, ha='center', color='#222222')

# ---- D-L
TOP_COL, RIGHT_COL = '#C66BA0', '#009E73'
rs_ticks = [.5, 0, -.5, -1, -1.5]
panels = [
    dict(key='D', name='T.cells.follicular.helper', x=d_x, y=d_y, top=top_d, stat=stat_d, zeros=True,
         xmap=(0, 28, .15, 170), ymap=(.5, 530, -1.5, 623), xmax=.175, top_y=(508, 528), rx=(200, 233), bottom=638,
         ticks=[0, .05, .10, .15], labels=['0.00', '0.05', '0.10', '0.15'], yticks=rs_ticks,
         title=(17, 496), xlab=(106, 652), ylab=(4, 578), cap=200, pad=3),
    dict(key='E', name='Eosinophils', x=e_x, y=e_y, top=top_e, stat=stat_e, zeros=True,
         xmap=(0, 261, .025, 424), ymap=(0, 562, -1, 604), xmax=.025, top_y=(508, 528), rx=(434, 467), bottom=638,
         ticks=[0, .005, .01, .015, .02, .025], labels=['0.000', '0.005', '0.010', '0.015', '0.020', '0.025'],
         yticks=[0, -1], ylabels=['0', '\u22121'], title=(253, 496), xlab=(347, 652), ylab=(245, 580), cap=433, pad=3),
    dict(key='F', name='NK.cells.activated', x=f_x, y=f_y, top=top_f, stat=stat_f, zeros=True,
         xmap=(0, 498, .09, 630), ymap=(.5, 531, -1.5, 625), xmax=.109, top_y=(508, 528), rx=(670, 702), bottom=638,
         ticks=[0, .03, .06, .09], labels=['0.00', '0.03', '0.06', '0.09'], yticks=rs_ticks,
         title=(490, 496), xlab=(574, 652), ylab=(473, 580), cap=668, pad=3),
    dict(key='G', name='Mast.cells.activated', x=g_x, y=g_y, top=top_g, stat=stat_g, zeros=True,
         xmap=(0, 30, .2, 187), ymap=(.5, 706, -1.5, 801), xmax=.208, top_y=(683, 703), rx=(203, 237), bottom=813,
         ticks=[0, .05, .1, .15, .2], labels=['0.00', '0.05', '0.10', '0.15', '0.20'], yticks=rs_ticks,
         title=(22, 671), xlab=(116, 827), ylab=(5, 755), cap=200, pad=3.5),
    dict(key='H', name='T.cells.CD8', x=h_x, y=h_y, top=top_h, stat=stat_h, zeros=True,
         xmap=(0, 264, .3, 412), ymap=(.5, 706, -1.5, 801), xmax=.335, top_y=(682, 703), rx=(439, 472), bottom=813,
         ticks=[0, .1, .2, .3], labels=['0.0', '0.1', '0.2', '0.3'], yticks=rs_ticks,
         title=(256, 670), xlab=(345, 829), ylab=(241, 755), cap=436, pad=3.5),
    dict(key='I', name='T.cells.regulatory.Tregs', x=i_x, y=i_y, top=top_i, stat=stat_i, zeros=True,
         xmap=(0, 505, .12, 676), ymap=(.5, 706, -1.5, 802), xmax=.117, top_y=(682, 703), rx=(680, 714), bottom=813,
         ticks=[0, .03, .06, .09, .12], labels=['0.00', '0.03', '0.06', '0.09', '0.12'], yticks=rs_ticks,
         title=(497, 670), xlab=(590, 829), ylab=(480, 757), cap=678, dark=True, pad=3.5),
    dict(key='J', name='T.cells.CD4.memory.resting', x=j_x, y=j_y, top=top_j, stat=stat_j, zeros=False,
         xmap=(0, 25, .4, 175), ymap=(.5, 886, -1.5, 982), xmax=.45, xmin=.008, top_y=(862, 883), rx=(202, 236), bottom=996,
         ticks=[0, .1, .2, .3, .4], labels=['0.0', '0.1', '0.2', '0.3', '0.4'], yticks=rs_ticks,
         title=(18, 850), xlab=(100, 1008), ylab=(4, 937), cap=200, pad=1.4),
    dict(key='K', name='Neutrophils', x=k_x, y=k_y, top=top_k, stat=stat_k, zeros=True,
         xmap=(0, 269, .25, 437), ymap=(.5, 887, -2, 987), xmax=.238, top_y=(863, 883), rx=(439, 471), bottom=993,
         ticks=[0, .05, .1, .15, .2, .25], labels=['0.00', '0.05', '0.10', '0.15', '0.20', '0.25'],
         yticks=[.5, 0, -.5, -1, -1.5, -2], title=(262, 852), xlab=(353, 1006), ylab=(244, 935), cap=437, pad=1.4),
    dict(key='L', name='Macrophages.M2', x=l_x, y=l_y, top=top_l, stat=stat_l, zeros=False,
         xmap=(0, 498, .4, 663), ymap=(.5, 887, -1.5, 982), xmax=.41, top_y=(862, 883), rx=(673, 706), bottom=996,
         ticks=[0, .1, .2, .3, .4], labels=['0.0', '0.1', '0.2', '0.3', '0.4'], yticks=rs_ticks,
         title=(490, 850), xlab=(580, 1008), ylab=(473, 938), cap=668, pad=1.4),
]
rs_edges = np.linspace(.42, -1.74, len(rs_counts) + 1)[::-1]
rs_centers = (rs_edges[:-1] + rs_edges[1:]) / 2

for p in panels:
    v0, a, v1, b = p['xmap']
    xscale = (b - a) / (v1 - v0)
    xmin = p.get('xmin', 0)
    left_px = a + xmin * xscale - 8
    right_px = a + p['xmax'] * xscale + 4
    xlim = (v0 + (left_px - a) / xscale, v0 + (right_px - a) / xscale)
    u0, c, u1, d = p['ymap']
    yscale = (d - c) / (u1 - u0)
    top_px = p['top_y'][1] + 1
    ylim = (u0 + (p['bottom'] - c) / yscale, u0 + (top_px - c) / yscale)

    ax = px_axes(left_px, top_px, right_px, p['bottom'])
    dark = p.get('dark', False)
    ax.set_xticks(p['ticks'])
    ax.set_yticks(p['yticks'])
    ax.grid(True, color='#EDEDED', linewidth=.4)
    ax.set_axisbelow(True)
    band_col = '#999999' if dark else '#D6D6D6'
    ax.fill_between(fit_x[p['key']], fit_lo[p['key']], fit_hi[p['key']], color=band_col, linewidth=0, zorder=1.5)
    xs = list(p['x'])
    ys = list(p['y'])
    if p['zeros']:
        xs += [0] * len(rs_at_zero)
        ys += rs_at_zero
    sns.scatterplot(x=xs, y=ys, color='black', s=5 if dark else 2.2, alpha=1 if dark else .5, linewidth=0,
                    zorder=3, ax=ax)
    sns.lineplot(x=fit_x[p['key']], y=fit_y[p['key']], color='#1B1BE0', linewidth=1, zorder=4, errorbar=None, ax=ax)
    ax.set_xlim(xlim)
    ax.set_ylim(ylim)
    ax.set_xticklabels(p['labels'], fontsize=4.5, color='#555555')
    ylabels = p.get('ylabels', [('%.1f' % t).replace('-', '\u2212') for t in p['yticks']])
    ax.set_yticklabels(ylabels, fontsize=4.5, color='#555555')
    ax.tick_params(axis='x', length=0, pad=p['pad'])
    ax.tick_params(axis='y', length=0, pad=1)
    ax.set_xlabel('')
    ax.set_ylabel('')
    sns.despine(ax=ax, left=True, bottom=True)

    axt = px_axes(left_px, p['top_y'][0], right_px, p['top_y'][1])
    lo = xmin
    edges = np.linspace(lo, p['xmax'], len(p['top']) + 1)
    sns.histplot(x=(edges[:-1] + edges[1:]) / 2, weights=p['top'], bins=edges.tolist(), color=TOP_COL, alpha=.95,
                 edgecolor='#55404E', linewidth=.3, ax=axt)
    axt.set_xlim(xlim)
    axt.set_ylim(0, max(p['top']))
    axt.axis('off')

    axr = px_axes(p['rx'][0], top_px, p['rx'][1], p['bottom'])
    sns.histplot(y=rs_centers, weights=rs_counts, bins=rs_edges.tolist(), color=RIGHT_COL, alpha=.95,
                 edgecolor='#2F5D4E', linewidth=.3, ax=axr)
    axr.set_ylim(ylim)
    axr.set_xlim(0, max(rs_counts))
    axr.axis('off')

    px_text(p['title'][0], p['title'][1], 'Correlation Analysis', fontsize=4.4, color='#222222')
    px_text(p['title'][0], p['title'][1] + 6, p['stat'], fontsize=1.8, color='#333333')
    px_text(p['xlab'][0], p['xlab'][1], p['name'], fontsize=4.6, ha='center', color='#222222')
    px_text(p['ylab'][0], p['ylab'][1], 'RiskScore', fontsize=4.6, rotation=90, ha='center', color='#222222')
    px_text(p['cap'], p['xlab'][1] + 5, bf_note, fontsize=1.5, ha='right', color='#444444')

# ---- M: oblique projection like scatterplot3d
def project(idx, depth, z):
    u = np.asarray(idx, float) / 350 + (np.asarray(depth, float) + .3) / .6 * .48
    v = (np.asarray(z, float) + .2) / .6 + (np.asarray(depth, float) + .3) / .6 * .45
    return u, v


ax = px_axes(22, 1053, 277, 1217)
grid_col = '#C4E6EC'
for t in index_ticks:
    u, v = project([t, t], [-.3, .3], [-.2, -.2])
    ax.plot(u, v, color=grid_col, linewidth=.5, zorder=1)
for t in depth_ticks:
    u, v = project([0, 350], [t, t], [-.2, -.2])
    ax.plot(u, v, color=grid_col, linewidth=.5, zorder=1)
corner_paths = [([0, 350, 350, 0, 0], [-.3] * 5, [-.2, -.2, .4, .4, -.2]),
                ([0, 350, 350, 0, 0], [.3] * 5, [-.2, -.2, .4, .4, -.2]),
                ([0, 0], [-.3, .3], [-.2, -.2]), ([350, 350], [-.3, .3], [-.2, -.2]),
                ([0, 0], [-.3, .3], [.4, .4]), ([350, 350], [-.3, .3], [.4, .4])]
for a_, b_, c_ in corner_paths:
    u, v = project(a_, b_, c_)
    ax.plot(u, v, color='#8A8A8A', linewidth=.7, zorder=2)
u, v = project([350, 350], [.3, .3], [-.2, .4])
ax.plot(u, v, color='#CFCFCF', linewidth=1.3, zorder=2)
hu, hv = project(pca_high_idx, pca_high_depth, pca_high_z)
lu, lv = project(pca_low_idx + pca_far_idx, pca_low_depth + pca_far_depth, pca_low_z + pca_far_z)
sns.scatterplot(x=hu, y=hv, color='#FF0000', s=3.5, linewidth=0, zorder=4, ax=ax)
sns.scatterplot(x=lu, y=lv, color='#00FFFF', s=3.5, linewidth=0, zorder=3, ax=ax)
ax.set_xlim(0, 1.48)
ax.set_ylim(0, 1.45)
ax.axis('off')
for t in index_ticks:
    u, v = project(t, -.3, -.2)
    ax.text(u, v - .05, str(t), ha='center', va='center', fontsize=6.4, color='#333333', clip_on=False)
for t in z_ticks:
    u, v = project(0, -.3, t)
    ax.text(u - .055, .042 + .91 * v, ('%.1f' % t).replace('-', '\u2212'), rotation=90, ha='center', va='center',
            fontsize=6.4, color='#333333', clip_on=False)
for t in depth_ticks:
    u, v = project(350, t, -.2)
    ax.text(u + .03, v - .025, ('%.1f' % t).replace('-', '\u2212'), ha='left', va='center', fontsize=6.4,
            color='#333333', clip_on=False)
px_text(166, 1035, '3D PCA plot', fontsize=6.8, fontweight='bold', ha='center', color='#222222')
px_text(109, 1234, 'Index', fontsize=6.6, ha='center', color='#222222')
px_rect(263, 1201, 36, 36, facecolor='white', edgecolor='#888888', linewidth=.6)
px_rect(270.3, 1211.3, 1.4, 1.4, facecolor='#FF0000', edgecolor='none')
px_rect(270.3, 1223.3, 1.4, 1.4, facecolor='#00FFFF', edgecolor='none')
px_text(279, 1212, 'high', fontsize=6.5, color='#222222')
px_text(279, 1224, 'low', fontsize=6.5, color='#222222')

fig.savefig('out.png', dpi=100)
